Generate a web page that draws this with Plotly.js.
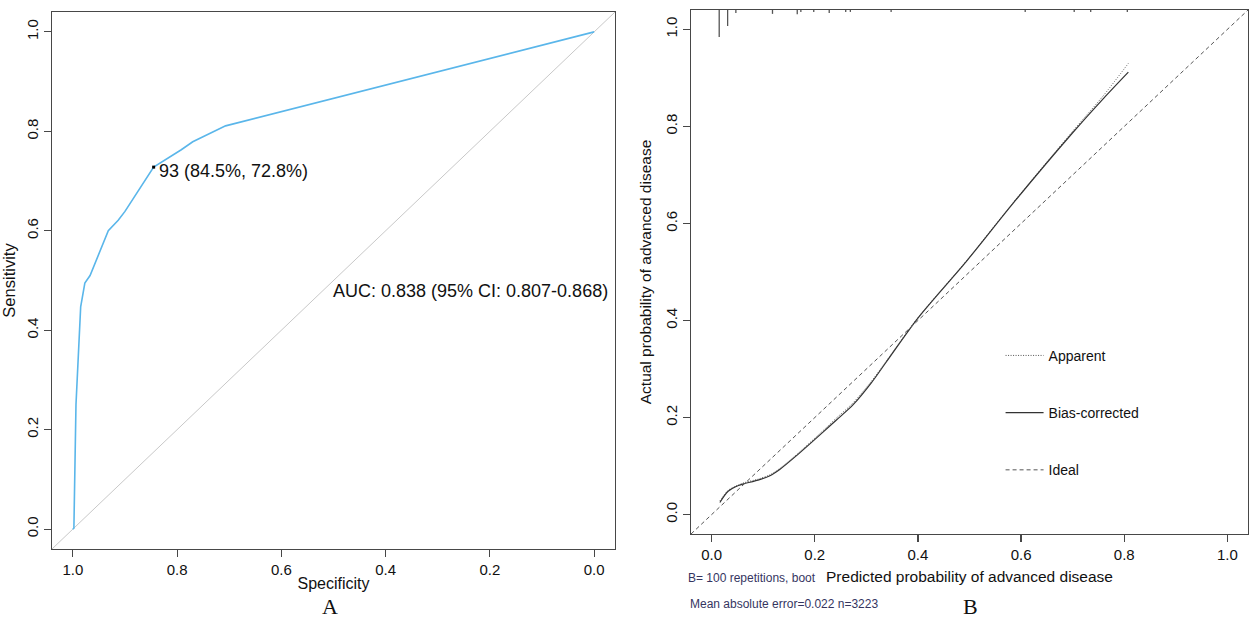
<!DOCTYPE html>
<html>
<head>
<meta charset="utf-8">
<script src="https://cdn.plot.ly/plotly-3.0.1.min.js"></script>
<style>
html,body{margin:0;padding:0;background:#fff;}
#chart{width:1257px;height:619px;}
</style>
</head>
<body>
<div id="chart"></div>
<script>
// ---------- Panel A: ROC curve ----------
const rocSpecificity = [1.000, 0.998, 0.994, 0.985, 0.977, 0.967, 0.932, 0.913, 0.900, 0.845, 0.792, 0.770, 0.707, 0.527, 0.000];
const rocSensitivity = [0.000, 0.002, 0.250, 0.447, 0.495, 0.510, 0.600, 0.621, 0.639, 0.728, 0.763, 0.779, 0.811, 0.859, 1.000];
const bestThreshold = {label: "93", specificity: 0.845, sensitivity: 0.728};
const aucText = "AUC: 0.838 (95% CI: 0.807-0.868)";

// ---------- Panel B: calibration curve ----------
const calPredicted = [0.016, 0.032, 0.052, 0.064, 0.090, 0.113, 0.132, 0.164, 0.216, 0.242, 0.274, 0.310, 0.339, 0.400, 0.494, 0.584, 0.700, 0.760, 0.808];
const calBiasCorrected = [0.025, 0.048, 0.060, 0.064, 0.071, 0.080, 0.093, 0.121, 0.170, 0.195, 0.226, 0.272, 0.315, 0.405, 0.522, 0.641, 0.787, 0.858, 0.912];
const calApparent = [0.028, 0.050, 0.061, 0.066, 0.073, 0.082, 0.095, 0.123, 0.173, 0.199, 0.230, 0.275, 0.317, 0.406, 0.523, 0.642, 0.790, 0.864, 0.930];
const rugPredicted = [0.0147, 0.031, 0.047, 0.118, 0.166, 0.173, 0.198, 0.228, 0.260, 0.269, 0.348, 0.608, 0.703, 0.735, 0.806];
const rugFrequency = [0.0556, 0.033, 0.006, 0.008, 0.009, 0.004, 0.004, 0.006, 0.004, 0.004, 0.004, 0.004, 0.004, 0.004, 0.004];
const calNote1 = "B= 100 repetitions, boot";
const calNote2 = "Mean absolute error=0.022 n=3223";
const legendNames = ["Apparent", "Bias-corrected", "Ideal"];

const tickVals = [0, 0.2, 0.4, 0.6, 0.8, 1.0];
const tickText = ["0.0", "0.2", "0.4", "0.6", "0.8", "1.0"];
const lo = -0.04, hi = 1.04;

// rug segments hanging from the top of the plot
const rugX = [], rugY = [];
rugPredicted.forEach((x, i) => { rugX.push(x, x, null); rugY.push(hi, hi - rugFrequency[i], null); });

const sans = "'Liberation Sans', Arial, sans-serif";
const axisCol = "#474747";

const traces = [
  {x: [hi, lo], y: [lo, hi], xaxis: "x", yaxis: "y", mode: "lines",
   line: {color: "#c8c8c8", width: 1}, showlegend: false, hoverinfo: "skip"},
  {x: rocSpecificity, y: rocSensitivity, xaxis: "x", yaxis: "y", mode: "lines",
   line: {color: "#5ab6ea", width: 1.6}, showlegend: false},
  {x: [bestThreshold.specificity], y: [bestThreshold.sensitivity], xaxis: "x", yaxis: "y", mode: "markers",
   marker: {color: "#000", size: 3, symbol: "square"}, showlegend: false},
  {x: rugX, y: rugY, xaxis: "x2", yaxis: "y2", mode: "lines",
   line: {color: "#555", width: 1.3}, showlegend: false, hoverinfo: "skip"},
  {x: calPredicted, y: calApparent, xaxis: "x2", yaxis: "y2", mode: "lines", name: legendNames[0],
   legendgroup: "a", line: {color: "#555", width: 1, dash: "1px,1.5px", shape: "spline", smoothing: 0.8}},
  {x: calPredicted, y: calBiasCorrected, xaxis: "x2", yaxis: "y2", mode: "lines", name: legendNames[1],
   legendgroup: "b", line: {color: "#333", width: 1.2, shape: "spline", smoothing: 0.8}},
  {x: [lo, hi], y: [lo, hi], xaxis: "x2", yaxis: "y2", mode: "lines", name: legendNames[2],
   legendgroup: "c", line: {color: "#555", width: 1, dash: "4px,3px"}}
];

function axis(domain, extra) {
  return Object.assign({
    domain: domain, showline: true, mirror: true, linecolor: axisCol, linewidth: 1.3,
    ticks: "outside", ticklen: 7, tickwidth: 1.2, tickcolor: axisCol,
    tickvals: tickVals, ticktext: tickText, showgrid: false, zeroline: false,
    tickfont: {family: sans, size: 15, color: "#111"}, automargin: false
  }, extra);
}

const layout = {
  width: 1257, height: 619,
  margin: {l: 0, r: 0, t: 0, b: 0},
  paper_bgcolor: "#fff", plot_bgcolor: "#fff",
  showlegend: true,
  legend: {x: 0.796, y: 0.451, xanchor: "left", yanchor: "top", bgcolor: "rgba(0,0,0,0)",
           font: {family: sans, size: 14, color: "#111"}, traceorder: "grouped",
           tracegroupgap: 36, itemwidth: 38},
  xaxis: axis([52/1257, 615/1257], {range: [hi, lo], autorange: false, anchor: "y",
    title: {text: "Specificity", font: {family: sans, size: 16, color: "#111"}, standoff: 0}}),
  yaxis: axis([70/619, 607/619], {range: [lo, hi], anchor: "x", tickangle: -90,
    title: {text: "Sensitivity", font: {family: sans, size: 16.5, color: "#111"}, standoff: 4}}),
  xaxis2: axis([691/1257, 1248/1257], {range: [lo, hi], anchor: "y2",
    title: {text: "Predicted probability of advanced disease", font: {family: sans, size: 15.5, color: "#111"}, standoff: 9}}),
  yaxis2: axis([85/619, 609/619], {range: [lo, hi], anchor: "x2", tickangle: -90,
    title: {text: "Actual probability of advanced disease", font: {family: sans, size: 15.5, color: "#111"}, standoff: 7}}),
  annotations: [
    {xref: "x", yref: "y", x: bestThreshold.specificity, y: bestThreshold.sensitivity,
     text: bestThreshold.label + " (" + (bestThreshold.specificity*100).toFixed(1) + "%, " + (bestThreshold.sensitivity*100).toFixed(1) + "%)",
     showarrow: false, xanchor: "left", yanchor: "middle", xshift: 3, yshift: -4,
     font: {family: sans, size: 18, color: "#111"}},
    {xref: "x", yref: "y", x: 0.5, y: 0.5, text: aucText, showarrow: false, xshift: -3, yshift: 2,
     xanchor: "left", yanchor: "top", font: {family: sans, size: 18, color: "#111"}},
    {xref: "paper", yref: "paper", x: 330/1257, y: 1 - 606/619, text: "A", showarrow: false,
     xanchor: "center", yanchor: "middle", font: {family: "'Liberation Serif', 'Times New Roman', serif", size: 22, color: "#111"}},
    {xref: "paper", yref: "paper", x: 970/1257, y: 1 - 606/619, text: "B", showarrow: false,
     xanchor: "center", yanchor: "middle", font: {family: "'Liberation Serif', 'Times New Roman', serif", size: 22, color: "#111"}},
    {xref: "paper", yref: "paper", x: 686/1257, y: 1 - 578/619, text: calNote1, showarrow: false,
     xanchor: "left", yanchor: "middle", font: {family: sans, size: 12, color: "#35355f"}},
    {xref: "paper", yref: "paper", x: 688/1257, y: 1 - 604/619, text: calNote2, showarrow: false,
     xanchor: "left", yanchor: "middle", font: {family: sans, size: 12, color: "#35355f"}}
  ]
};

Plotly.newPlot("chart", traces, layout, {staticPlot: true, displayModeBar: false});
</script>
</body>
</html>
